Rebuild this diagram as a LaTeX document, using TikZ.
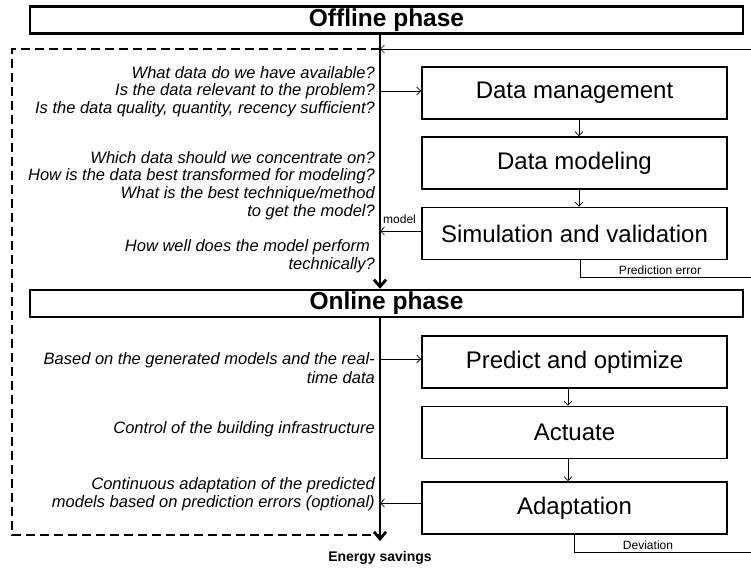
\documentclass[tikz,border=0pt]{standalone}
\usepackage{fontspec}
\setmainfont{Liberation Sans}
\usetikzlibrary{arrows.meta}
\begin{document}
\begin{tikzpicture}[x=1pt,y=-1pt,
  phasebox/.style={draw,line width=2.4pt,minimum width=713pt,minimum height=27pt,inner sep=0pt,
    font=\fontsize{24.5}{26}\selectfont\bfseries},
  stepbox/.style={draw,line width=1.6pt,minimum width=305pt,minimum height=52pt,inner sep=0pt,
    font=\fontsize{24}{27}\selectfont},
  question/.style={anchor=east,inner sep=0pt,font=\fontsize{16.5}{18}\selectfont\itshape},
  smalllabel/.style={inner sep=0pt,font=\fontsize{12}{13}\selectfont},
  thinline/.style={line width=0.7pt},
  thinarrow/.style={thinline,-{Straight Barb[length=4pt,width=8pt]}},
  mainflow/.style={line width=2.8pt,-{Straight Barb[length=7pt,width=12pt,line width=2.8pt]}},
  frame/.style={line width=1.5pt,dash pattern=on 9pt off 5pt},
]
\useasboundingbox (0,0) rectangle (751,570);

% phase headers
\node[phasebox] (off) at (386.5,20) {Offline phase};
\node[phasebox] (on)  at (386.5,303.5) {Online phase};

% process steps
\node[stepbox] (dm)    at (574.5,93)    {Data management};
\node[stepbox] (dmod)  at (574.5,163)   {Data modeling};
\node[stepbox] (sim)   at (574.5,233.5) {Simulation and validation};
\node[stepbox] (pred)  at (574.5,362)   {Predict and optimize};
\node[stepbox] (act)   at (574.5,432.5) {Actuate};
\node[stepbox] (adapt) at (574.5,508)   {Adaptation};

% helper coordinates
\coordinate (spine) at (380,0);
\coordinate (fnw) at (12,49);
\coordinate (fsw) at (12,535);
\coordinate (spineend) at (380,541);
\coordinate (fbin) at (751,49);
\coordinate (pe) at (580,277);
\coordinate (dv) at (574,552);

% dashed frame around the questions
\draw[frame] (spine |- fnw) -- (fnw) -- (fsw) -- (spine |- fsw);

% main flow
\draw[mainflow] (off.south -| spine) -- (on.north -| spine);
\draw[mainflow] (on.south -| spine) -- (spineend);
\node[inner sep=0pt,font=\fontsize{14}{16}\selectfont\bfseries] (savings) at (380,558) {Energy savings};

% feedback paths
\draw[thinarrow] (fbin) -- (spine |- fbin);
\draw[thinline] (sim.south -| pe) -- (pe) -- (pe -| fbin);
\node[smalllabel,anchor=base] (pelabel) at (660,274) {Prediction error};
\draw[thinline] (adapt.south -| dv) -- (dv) -- (dv -| fbin);
\node[smalllabel,anchor=base] (dvlabel) at (648,549) {Deviation};

% links between spine and steps
\draw[thinarrow] ([yshift=2pt]dm.west -| spine) -- ([yshift=2pt]dm.west);
\draw[thinarrow] ([yshift=2.5pt]sim.west) -- ([yshift=2.5pt]sim.west -| spine);
\node[smalllabel,anchor=base west] (modellabel) at (383,223) {model};
\draw[thinarrow] ([yshift=3pt]pred.west -| spine) -- ([yshift=3pt]pred.west);
\draw[thinarrow] ([yshift=5pt]adapt.west) -- ([yshift=5pt]adapt.west -| spine);

% links between steps
\draw[thinarrow] ([xshift=4.5pt]dm.south) -- ([xshift=4.5pt]dmod.north);
\draw[thinarrow] ([xshift=4.5pt]dmod.south) -- ([xshift=4.5pt]sim.north);
\draw[thinarrow] ([xshift=-6.5pt]pred.south) -- ([xshift=-6.5pt]act.north);
\draw[thinarrow] ([xshift=-6.5pt]act.south) -- ([xshift=-6.5pt]adapt.north);

% guiding questions
\node[question] (q1) at (375,73)  {What data do we have available?};
\node[question] (q2) at (375,91)  {Is the data relevant to the problem?};
\node[question] (q3) at (375,109) {Is the data quality, quantity, recency sufficient?};
\node[question] (q4) at (375,158) {Which data should we concentrate on?};
\node[question] (q5) at (375,176) {How is the data best transformed for modeling?};
\node[question] (q6) at (375,194) {What is the best technique/method};
\node[question] (q7) at (375,212) {to get the model?};
\node[question] (q8) at (370,247) {How well does the model perform};
\node[question] (q9) at (375,265) {technically?};
\node[question] (q10) at (375,360) {Based on the generated models and the real-};
\node[question] (q11) at (375,378) {time data};
\node[question] (q12) at (375,429) {Control of the building infrastructure};
\node[question] (q13) at (375,485) {Continuous adaptation of the predicted};
\node[question] (q14) at (375,503) {models based on prediction errors (optional)};
\end{tikzpicture}
\end{document}
